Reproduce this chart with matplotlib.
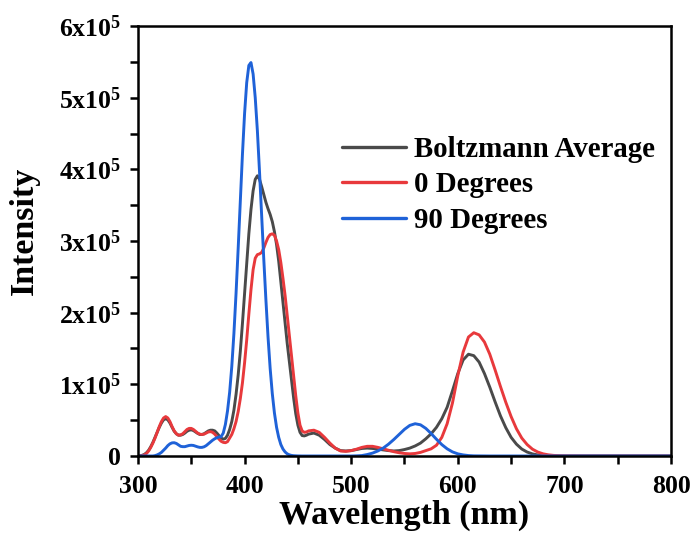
import matplotlib
matplotlib.use("Agg")
import matplotlib.pyplot as plt
from matplotlib.ticker import MultipleLocator

plt.rcParams['font.family'] = ['Liberation Serif', 'DejaVu Serif']
plt.rcParams['font.weight'] = 'bold'
plt.rcParams['mathtext.default'] = 'regular'

# Wavelength grid (nm): fine steps through the UV band region, coarser beyond
wavelength = (list(range(300, 461, 2)) + list(range(465, 701, 5))
              + [720, 740, 760, 780, 800])

# Intensities in units of 1e5
boltzmann = [
    0.0, 0.003, 0.01, 0.022, 0.045, 0.08, 0.13, 0.19, 0.26, 0.33,          # 300-318
    0.40, 0.46, 0.505, 0.52, 0.505, 0.46, 0.40, 0.345, 0.31, 0.29,         # 320-338
    0.29, 0.30, 0.32, 0.345, 0.36, 0.365, 0.355, 0.335, 0.315, 0.30,       # 340-358
    0.30, 0.31, 0.33, 0.35, 0.36, 0.36, 0.35, 0.32, 0.285, 0.25,           # 360-378
    0.235, 0.245, 0.29, 0.37, 0.48, 0.64, 0.86, 1.13, 1.46, 1.85,          # 380-398
    2.27, 2.70, 3.10, 3.44, 3.70, 3.86, 3.91, 3.86, 3.76, 3.65,            # 400-418
    3.54, 3.45, 3.37, 3.27, 3.13, 2.95, 2.72, 2.43, 2.13, 1.84,            # 420-438
    1.57, 1.32, 1.06, 0.81, 0.59, 0.43, 0.33, 0.285, 0.28, 0.29,           # 440-458
    0.305,                                                                 # 460
    0.32, 0.29, 0.23, 0.16, 0.11, 0.075, 0.07, 0.075, 0.09, 0.105,         # 465-510
    0.11, 0.105, 0.095, 0.085, 0.075, 0.07, 0.075, 0.09, 0.11, 0.14,       # 515-560
    0.18, 0.24, 0.31, 0.40, 0.52, 0.68, 0.91, 1.15, 1.34, 1.42,            # 565-610
    1.40, 1.31, 1.15, 0.96, 0.755, 0.56, 0.395, 0.26, 0.165, 0.097,        # 615-660
    0.055, 0.029, 0.015, 0.007, 0.003, 0.001, 0.0, 0.0,                    # 665-700
    0.0, 0.0, 0.0, 0.0, 0.0,                                               # 720-800
]

deg0 = [
    0.0, 0.0, 0.005, 0.015, 0.035, 0.07, 0.12, 0.18, 0.25, 0.33,           # 300-318
    0.41, 0.48, 0.53, 0.55, 0.53, 0.48, 0.41, 0.35, 0.31, 0.29,            # 320-338
    0.295, 0.31, 0.34, 0.37, 0.385, 0.385, 0.37, 0.345, 0.32, 0.305,       # 340-358
    0.30, 0.305, 0.32, 0.335, 0.34, 0.33, 0.305, 0.27, 0.235, 0.205,       # 360-378
    0.19, 0.185, 0.20, 0.25, 0.30, 0.38, 0.48, 0.62, 0.80, 1.02,           # 380-398
    1.30, 1.62, 1.98, 2.32, 2.60, 2.76, 2.81, 2.82, 2.84, 2.90,            # 400-418
    2.98, 3.05, 3.09, 3.10, 3.08, 3.00, 2.88, 2.70, 2.48, 2.24,            # 420-438
    1.96, 1.68, 1.40, 1.12, 0.84, 0.60, 0.43, 0.35, 0.33, 0.335,           # 440-458
    0.35,                                                                  # 460
    0.36, 0.33, 0.26, 0.18, 0.11, 0.07, 0.065, 0.075, 0.095, 0.12,         # 465-510
    0.135, 0.135, 0.12, 0.10, 0.08, 0.06, 0.045, 0.035, 0.03, 0.035,       # 515-560
    0.05, 0.075, 0.10, 0.15, 0.26, 0.45, 0.74, 1.12, 1.45, 1.66,           # 565-610
    1.72, 1.69, 1.59, 1.42, 1.20, 0.97, 0.75, 0.55, 0.38, 0.25,            # 615-660
    0.16, 0.095, 0.055, 0.03, 0.016, 0.008, 0.004, 0.002,                  # 665-700
    0.0, 0.0, 0.0, 0.0, 0.0,                                               # 720-800
]

deg90 = [
    0.0, 0.0, 0.0, 0.0, 0.0, 0.0, 0.0, 0.0, 0.005, 0.015,                  # 300-318
    0.03, 0.05, 0.08, 0.11, 0.145, 0.17, 0.183, 0.185, 0.175, 0.155,       # 320-338
    0.135, 0.13, 0.13, 0.138, 0.147, 0.15, 0.147, 0.137, 0.127, 0.12,      # 340-358
    0.12, 0.128, 0.145, 0.17, 0.195, 0.22, 0.24, 0.255, 0.265, 0.27,       # 360-378
    0.32, 0.44, 0.63, 0.89, 1.25, 1.71, 2.27, 2.90, 3.57, 4.21,            # 380-398
    4.78, 5.21, 5.45, 5.49, 5.33, 5.00, 4.54, 3.97, 3.36, 2.75,            # 400-418
    2.18, 1.66, 1.22, 0.87, 0.60, 0.40, 0.26, 0.16, 0.097, 0.056,          # 420-438
    0.03, 0.016, 0.008, 0.004, 0.002, 0.001, 0.0, 0.0, 0.0, 0.0,           # 440-458
    0.0,                                                                   # 460
    0.0, 0.0, 0.0, 0.0, 0.0, 0.0, 0.0, 0.0, 0.002, 0.006,                  # 465-510
    0.02, 0.04, 0.07, 0.11, 0.165, 0.23, 0.30, 0.372, 0.427, 0.45,         # 515-560
    0.435, 0.385, 0.313, 0.233, 0.159, 0.10, 0.057, 0.03, 0.015, 0.006,    # 565-610
    0.002, 0.001, 0.0, 0.0, 0.0, 0.0, 0.0, 0.0, 0.0, 0.0,                  # 615-660
    0.0, 0.0, 0.0, 0.0, 0.0, 0.0, 0.0, 0.0,                                # 665-700
    0.0, 0.0, 0.0, 0.0, 0.0,                                               # 720-800
]

series_labels = ["Boltzmann Average", "0 Degrees", "90 Degrees"]
series_colors = ["#4a4a4a", "#e8393c", "#1f62d8"]

y_ticks = [0, 1, 2, 3, 4, 5, 6]
y_ticklabels = ["0"] + [f"{v}x10$^5$" for v in y_ticks[1:]]
x_ticks = [300, 400, 500, 600, 700, 800]

fig = plt.figure(figsize=(6.94, 5.42), dpi=100)
ax = fig.add_axes([0.1988, 0.1587, 0.7681, 0.7933])

for values, label, color in zip([boltzmann, deg0, deg90], series_labels, series_colors):
    ax.plot(wavelength, [v * 1e5 for v in values], color=color, lw=2.1,
            label=label, solid_joinstyle='round', solid_capstyle='round')

ax.set_xlim(300, 800)
ax.set_ylim(0, 6e5)
ax.set_xticks(x_ticks)
ax.set_xticklabels([str(t) for t in x_ticks])
ax.xaxis.set_minor_locator(MultipleLocator(50))
ax.set_yticks([t * 1e5 for t in y_ticks])
ax.set_yticklabels(y_ticklabels)
ax.yaxis.set_minor_locator(MultipleLocator(0.5e5))

for side in ax.spines.values():
    side.set_linewidth(1.8)

ax.tick_params(which='both', direction='out', width=1.8, length=5.5,
               top=False, right=False)
ax.tick_params(axis='both', which='major', labelsize=18.5)
ax.tick_params(axis='x', which='major', pad=8)
ax.tick_params(axis='y', which='major', pad=7)

ax.set_xlabel("Wavelength (nm)", fontsize=24.5, fontweight='bold')
ax.set_ylabel("Intensity", fontsize=24.5, fontweight='bold')
ax.xaxis.set_label_coords(0.5, -0.102)
ax.yaxis.set_label_coords(-0.184, 0.523)

leg = ax.legend(loc='upper left', bbox_to_anchor=(0.383, 0.745), frameon=False,
                fontsize=20.8, handlelength=2.2, handletextpad=0.3,
                labelspacing=0.3, borderpad=0, borderaxespad=0)
for line in leg.get_lines():
    line.set_linewidth(2.4)

fig.savefig("out.png", dpi=100)
